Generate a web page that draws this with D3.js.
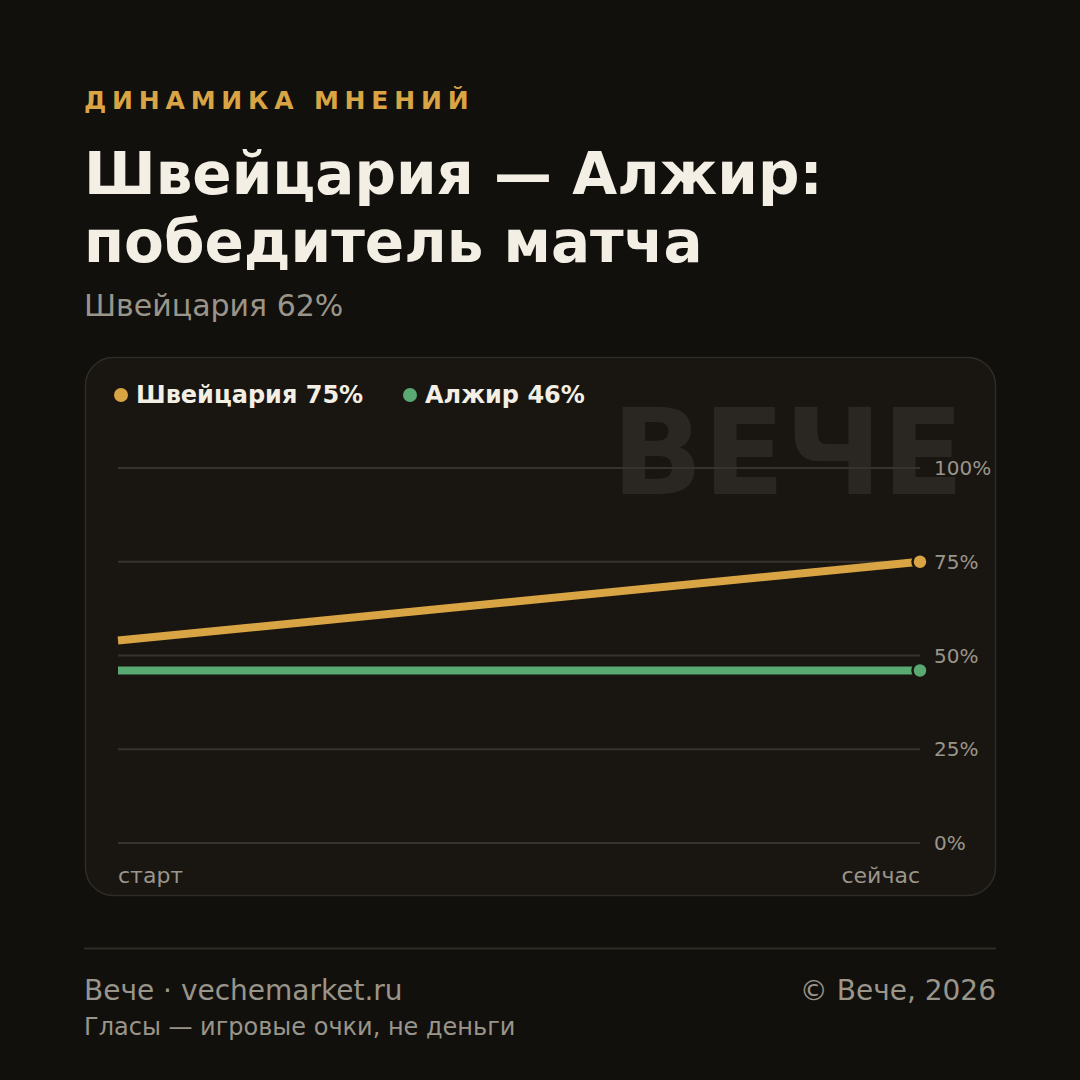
<!DOCTYPE html>
<html><head><meta charset="utf-8">
<script src="https://cdn.jsdelivr.net/npm/d3@7"></script>
<style>html,body{margin:0;padding:0;background:#12100d;}svg{display:block;font-family:"DejaVu Sans",sans-serif;}</style>
</head><body>
<svg id="c" width="1080" height="1080"></svg>
<script>
const timeLabels = ["старт", "сейчас"];
const seriesNames = ["Швейцария", "Алжир"];
const swissValues = [54, 75];
const algeriaValues = [46, 46];
const yTicks = [0, 25, 50, 75, 100];
const seriesColors = ["#d9a443", "#5aa872"];

const svg = d3.select("#c");
svg.append("rect").attr("width",1080).attr("height",1080).attr("fill","#12100d");

svg.append("text").attr("x",84).attr("y",109).attr("fill","#d9a443")
  .attr("font-size",25).attr("font-weight","bold").attr("letter-spacing",5.8)
  .text("ДИНАМИКА МНЕНИЙ");
svg.append("text").attr("x",84).attr("y",194).attr("fill","#f3efe4")
  .attr("font-size",58).attr("font-weight","bold").text("Швейцария — Алжир:");
svg.append("text").attr("x",84).attr("y",262).attr("fill","#f3efe4")
  .attr("font-size",58).attr("font-weight","bold").text("победитель матча");
svg.append("text").attr("x",84).attr("y",316).attr("fill","#9a958a")
  .attr("font-size",30).text("Швейцария 62%");

// card
svg.append("rect").attr("x",85.5).attr("y",357.5).attr("width",910).attr("height",538)
  .attr("rx",28).attr("fill","#191612").attr("stroke","#2f2b25").attr("stroke-width",1.5);

// watermark
svg.append("text").attr("x",964).attr("y",494).attr("text-anchor","end")
  .attr("fill","#2a2621").attr("font-size",120).attr("font-weight","bold").text("ВЕЧЕ");

const x = d3.scalePoint().domain(timeLabels).range([118, 920]);
const y = d3.scaleLinear().domain([0,100]).range([843, 468]);

const grid = svg.append("g");
yTicks.forEach(t => {
  grid.append("line").attr("x1",118).attr("x2",920).attr("y1",y(t)).attr("y2",y(t))
    .attr("stroke","#37322b").attr("stroke-width",2);
  grid.append("text").attr("x",934).attr("y",y(t)+7).attr("fill","#9a958a")
    .attr("font-size",20).text(t + "%");
});

svg.append("text").attr("x",x(timeLabels[0])).attr("y",883).attr("fill","#9a958a")
  .attr("font-size",22).text(timeLabels[0]);
svg.append("text").attr("x",x(timeLabels[1])).attr("y",883).attr("text-anchor","end")
  .attr("fill","#9a958a").attr("font-size",22).text(timeLabels[1]);

const series = [swissValues, algeriaValues];
const line = d3.line().x((d,i)=>x(timeLabels[i])).y(d=>y(d));
series.forEach((vals, si) => {
  svg.append("path").datum(vals).attr("d", line).attr("fill","none")
    .attr("stroke", seriesColors[si]).attr("stroke-width", 8);
});
series.forEach((vals, si) => {
  const last = vals.length - 1;
  svg.append("circle").attr("cx", x(timeLabels[last])).attr("cy", y(vals[last])).attr("r", 7.5)
    .attr("fill", seriesColors[si]).attr("stroke","#191612").attr("stroke-width",2.5);
});

// legend
const legendX = [121, 410];
series.forEach((vals, si) => {
  svg.append("circle").attr("cx", legendX[si]).attr("cy", 395).attr("r", 7).attr("fill", seriesColors[si]);
  svg.append("text").attr("x", legendX[si] + 15).attr("y", 403).attr("fill","#f3efe4")
    .attr("font-size",24).attr("font-weight","bold")
    .text(seriesNames[si] + " " + vals[vals.length-1] + "%");
});

// footer
svg.append("line").attr("x1",84).attr("x2",996).attr("y1",948.5).attr("y2",948.5)
  .attr("stroke","#2f2b25").attr("stroke-width",2);
svg.append("text").attr("x",84).attr("y",1000).attr("fill","#9a958a").attr("font-size",28)
  .text("Вече · vechemarket.ru");
svg.append("text").attr("x",996).attr("y",1000).attr("text-anchor","end").attr("fill","#9a958a")
  .attr("font-size",28).text("© Вече, 2026");
svg.append("text").attr("x",84).attr("y",1035).attr("fill","#9a958a").attr("font-size",24)
  .text("Гласы — игровые очки, не деньги");
</script>
</body></html>
